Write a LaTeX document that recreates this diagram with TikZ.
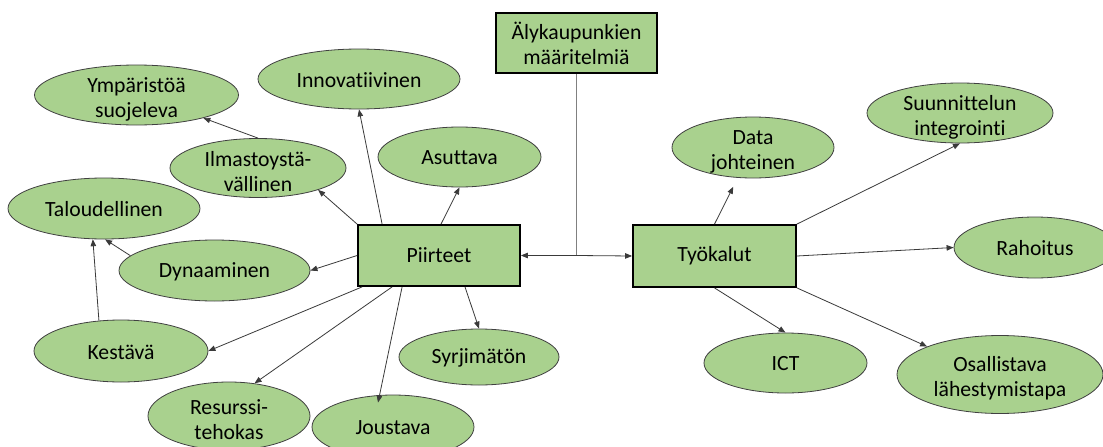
\documentclass[tikz,border=0pt]{standalone}
\usepackage{fontspec}
\setmainfont{Carlito}[Ligatures=NoCommon]
\usetikzlibrary{shapes.geometric,arrows.meta,calc}
\definecolor{leaf}{HTML}{A9D18E}
\definecolor{edge}{HTML}{3A3A3A}
\begin{document}
\begin{tikzpicture}[x=1pt,y=-1pt,
  every node/.style={font=\fontsize{21.7}{25}\selectfont, align=center, inner sep=0pt, text=black},
  bubble/.style={ellipse, fill=leaf, draw=black!75, line width=0.8pt},
  one/.style={label={[yshift=-1pt]center:#1}},
  two/.style={label={[yshift=-4pt]center:#1}},
  box/.style={rectangle, fill=leaf, draw=black, line width=1.8pt},
  link/.style={draw=edge, line width=0.8pt, -{Triangle[length=7pt,width=5.5pt]}},
  stem/.style={draw=gray, line width=1pt}]
\useasboundingbox (0,0) rectangle (1103,447);
\fill[white] (0,0) rectangle (1103,447);

% boxes
\node[box, minimum width=161pt, minimum height=60pt] (aly) at (576.5,43) {\raisebox{0pt}[0pt][0pt]{}Älykaupunkien\\määritelmiä};
\node[box, minimum width=162pt, minimum height=61pt] (piir) at (439,255.5) {Piirteet};
\node[box, minimum width=163pt, minimum height=62pt] (tyo) at (714.5,256) {Työkalut};

% ellipses
\node[bubble, minimum width=204pt, minimum height=60pt, two={Ympäristöä\\suojeleva}] (ymp) at (136.5,95) {};
\node[bubble, minimum width=202pt, minimum height=60pt, one={Innovatiivinen}] (innov) at (359,79) {};
\node[bubble, minimum width=176pt, minimum height=59pt, two={Ilmastoystä-\\vällinen}] (ilm) at (258,168) {};
\node[bubble, minimum width=163pt, minimum height=60pt, one={Asuttava}] (asut) at (459.5,157) {};
\node[bubble, minimum width=192pt, minimum height=61pt, one={Taloudellinen}] (talo) at (104,208.5) {};
\node[bubble, minimum width=191pt, minimum height=61pt, one={Dynaaminen}] (dyn) at (214.5,270.5) {};
\node[bubble, minimum width=174pt, minimum height=62pt, one={Kestävä}] (kest) at (121,351) {};
\node[bubble, minimum width=162pt, minimum height=68pt, two={Resurssi-\\tehokas}] (resu) at (229,416) {};
\node[bubble, minimum width=162pt, minimum height=64pt, one={Joustava}] (jous) at (393,427) {};
\node[bubble, minimum width=160pt, minimum height=56pt, one={Syrjimätön}] (syrj) at (479,357) {};
\node[bubble, minimum width=162pt, minimum height=61pt, two={Data\\johteinen}] (data) at (753,147.5) {};
\node[bubble, minimum width=186pt, minimum height=60pt, two={Suunnittelun\\integrointi}] (suun) at (960,113) {};
\node[bubble, minimum width=162pt, minimum height=61pt, one={Rahoitus}] (raho) at (1035,247.5) {};
\node[bubble, minimum width=163pt, minimum height=60pt, one={ICT}] (ict) at (785.5,363) {};
\node[bubble, minimum width=206pt, minimum height=78pt, two={Osallistava\\lähestymistapa}] (osal) at (1000,374.5) {};

% centre connector
\coordinate (j) at (aly.south |- piir.east);
\draw[stem] (aly.south) -- (j);
\draw[link] (j) -- (piir.east);
\draw[link] (j) -- (tyo.west);

% Piirteet connectors
\draw[link] ([xshift=25pt]piir.north west) -- (innov.south);
\draw[link] (piir.north west) -- (ilm.-20);
\draw[link] ([xshift=2pt]piir.north) -- (asut.south);
\draw[link] (piir.west) -- (dyn.east);
\draw[link] ([xshift=5pt]piir.south west) -- (kest.east);
\draw[link] ([xshift=35pt]piir.south west) -- (resu.52);
\draw[link] ([xshift=45pt]piir.south west) -- ([xshift=-15pt,yshift=-8pt]jous.north);
\draw[link] ([xshift=26pt]piir.south) -- (syrj.north);

% secondary connectors
\draw[link] (kest.126) -- (talo.-110);
\draw[link] (dyn.170) -- (talo.-88);
\draw[link] (ilm.north) -- (ymp.-19);

% Tyokalut connectors
\draw[link, shorten >=10pt] (tyo.north) -- (data);
\draw[link] (tyo.north east) -- (suun.south);
\draw[link] (tyo.east) -- (raho.west);
\draw[link] (tyo.south) -- (ict.north);
\draw[link] (tyo.south east) -- (osal.159);
\end{tikzpicture}
\end{document}
